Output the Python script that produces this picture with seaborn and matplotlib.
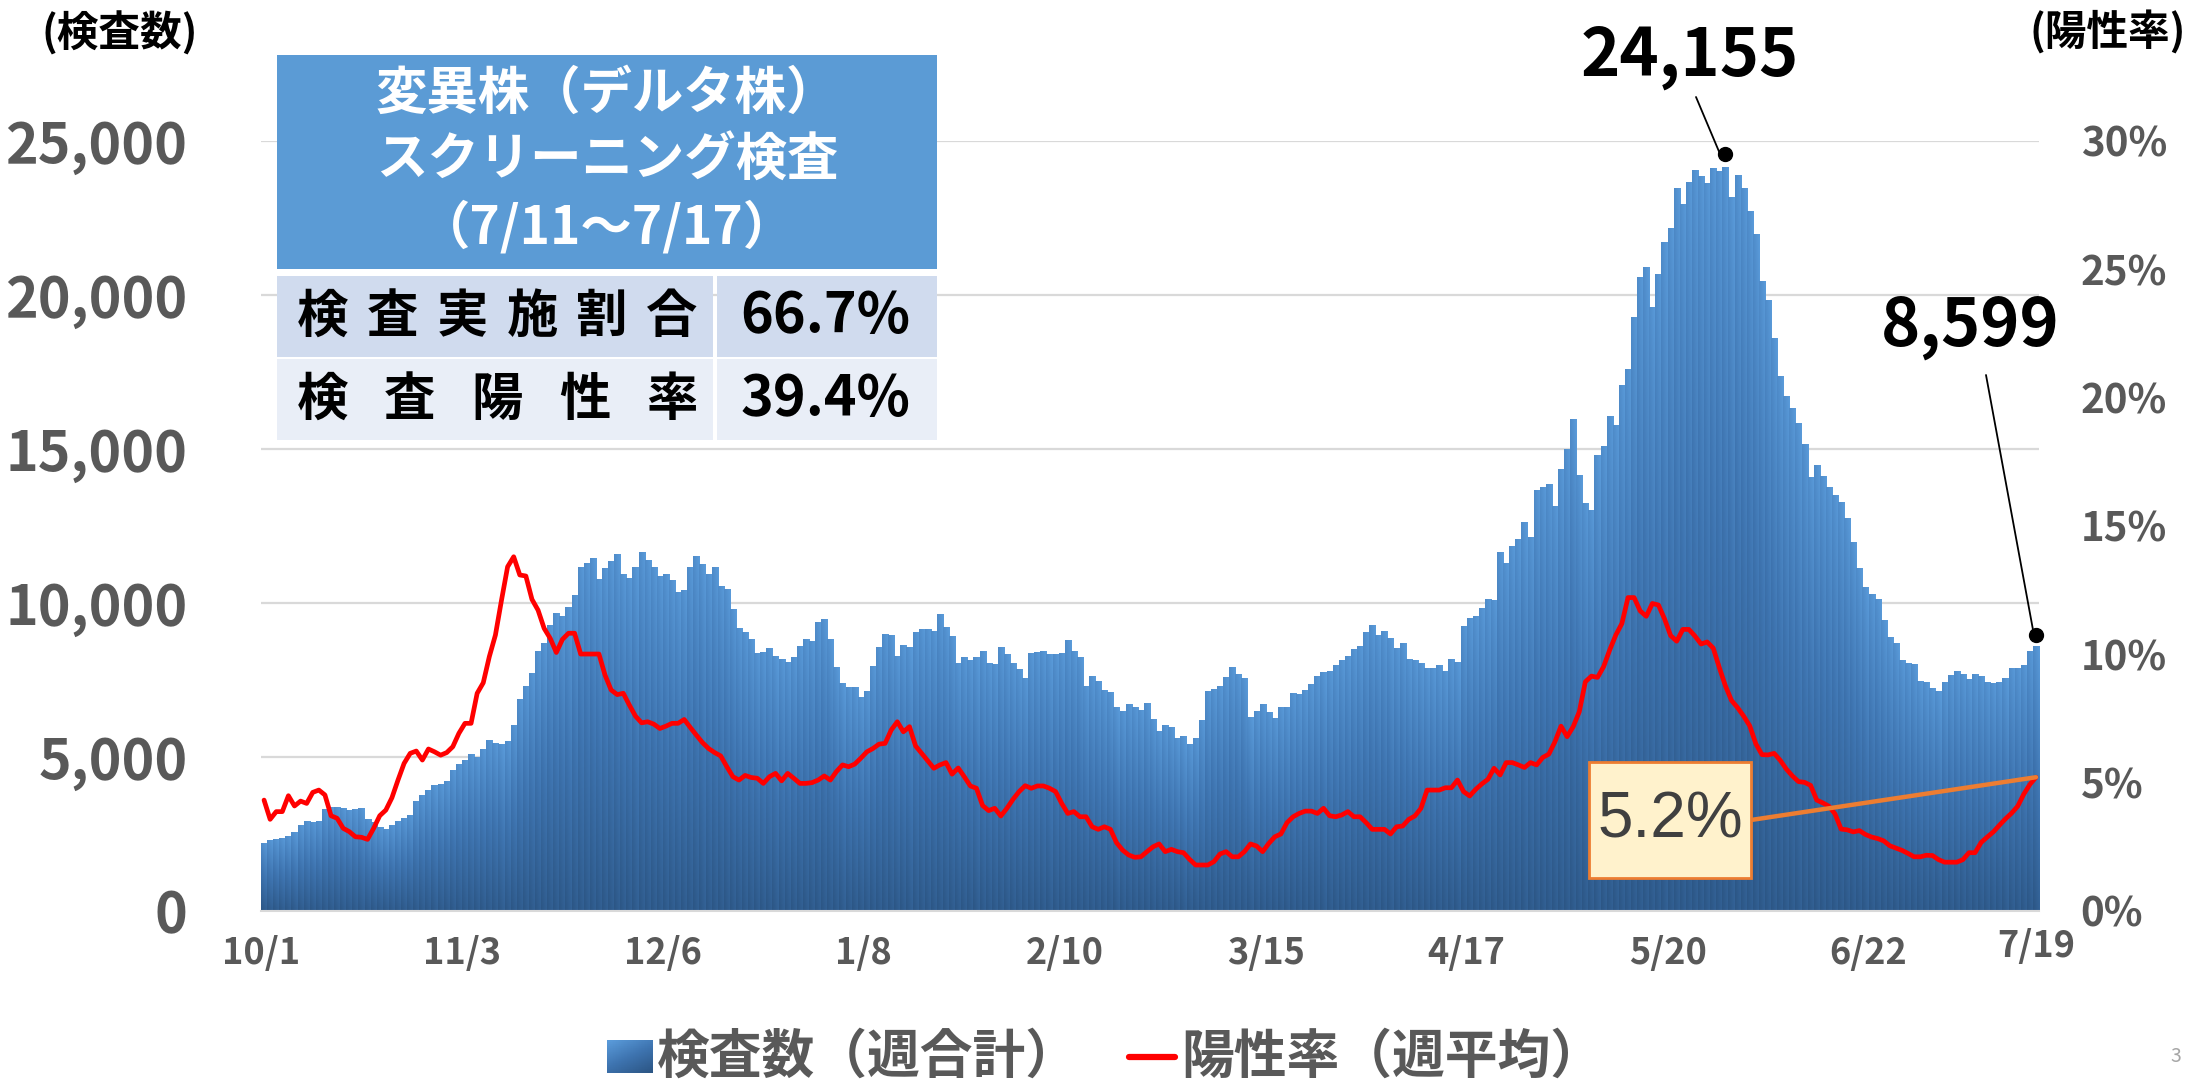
import numpy as np
import pandas as pd
import matplotlib
matplotlib.use('Agg')
import matplotlib.pyplot as plt
import matplotlib.transforms as mtransforms
from matplotlib.colors import LinearSegmentedColormap
from matplotlib.patches import Rectangle
from matplotlib.lines import Line2D
import seaborn as sns

# 日付（10/1〜7/19）
days = pd.date_range('2020-10-01', '2021-07-19', freq='D')
day_labels = [f'{d.month}/{d.day}' for d in days]

# 検査数（週合計）
tests = [
    2190, 2290, 2315, 2350, 2420, 2550, 2780, 2910, 2860, 2910,
    3300, 3350, 3350, 3320, 3270, 3290, 3320, 2980, 2860, 2700,
    2650, 2780, 2910, 3000, 3100, 3560, 3750, 3920, 4080, 4110,
    4210, 4570, 4760, 4890, 5090, 4970, 5250, 5540, 5450, 5410,
    5510, 6030, 6870, 7290, 7720, 8430, 8700, 9270, 9650, 9570,
    9860, 10250, 11160, 11290, 11440, 10770, 11120, 11350, 11580, 10930,
    10800, 11160, 11640, 11380, 11160, 10860, 10930, 10730, 10340, 10410,
    11160, 11510, 11250, 10930, 11160, 10540, 10440, 9790, 9180, 9050,
    8820, 8360, 8400, 8530, 8270, 8170, 8070, 8230, 8590, 8820,
    8750, 9370, 9470, 8820, 7910, 7390, 7260, 7260, 6940, 7130,
    7940, 8560, 8980, 8950, 8270, 8620, 8560, 9050, 9140, 9140,
    9080, 9630, 9210, 8920, 8040, 8230, 8140, 8230, 8430, 8040,
    8010, 8560, 8330, 8040, 7850, 7550, 8360, 8400, 8430, 8330,
    8330, 8360, 8790, 8430, 8230, 7290, 7620, 7460, 7160, 7100,
    6610, 6480, 6710, 6610, 6510, 6740, 6220, 5830, 6030, 5960,
    5600, 5670, 5410, 5600, 6190, 7130, 7200, 7290, 7590, 7910,
    7680, 7550, 6290, 6480, 6710, 6450, 6250, 6610, 6610, 7070,
    7030, 7160, 7360, 7620, 7750, 7780, 7970, 8140, 8270, 8490,
    8590, 9050, 9260, 8950, 9080, 8840, 8530, 8690, 8170, 8120,
    8050, 7880, 7880, 7960, 7780, 8170, 8060, 9230, 9490, 9560,
    9830, 10110, 10090, 11650, 11290, 11840, 12060, 12600, 12120, 13650,
    13740, 13840, 13140, 14350, 14990, 15960, 14140, 13240, 12990, 14790,
    15080, 16060, 15770, 17050, 17570, 19270, 20560, 20890, 19600, 20670,
    21720, 22160, 23450, 22940, 23650, 24040, 23860, 23620, 24100, 24010,
    24155, 23180, 23870, 23450, 22720, 21960, 20440, 19830, 18600, 17350,
    16710, 16330, 15840, 15150, 14090, 14480, 14120, 13740, 13480, 13260,
    12740, 11980, 11110, 10500, 10290, 10120, 9440, 8890, 8690, 8120,
    8050, 7990, 7450, 7420, 7230, 7140, 7420, 7650, 7780, 7670,
    7520, 7680, 7610, 7430, 7400, 7420, 7550, 7870, 7870, 7960,
    8440, 8599,
]

# 陽性率（週平均, %）
positive_rate = [
    4.31, 3.56, 3.86, 3.86, 4.48, 4.08, 4.27, 4.18, 4.61, 4.70,
    4.51, 3.70, 3.60, 3.21, 3.08, 2.88, 2.86, 2.78, 3.21, 3.70,
    3.92, 4.40, 5.09, 5.74, 6.13, 6.22, 5.87, 6.30, 6.19, 6.06,
    6.16, 6.39, 6.91, 7.30, 7.30, 8.47, 8.88, 9.90, 10.74, 12.10,
    13.40, 13.79, 13.08, 13.04, 12.13, 11.71, 11.00, 10.61, 10.06, 10.57,
    10.81, 10.81, 10.00, 10.00, 10.00, 10.00, 9.18, 8.60, 8.42, 8.47,
    8.01, 7.58, 7.32, 7.36, 7.27, 7.10, 7.19, 7.30, 7.30, 7.45,
    7.14, 6.84, 6.55, 6.32, 6.16, 6.03, 5.61, 5.22, 5.09, 5.27,
    5.19, 5.16, 4.96, 5.22, 5.35, 5.06, 5.35, 5.16, 4.96, 4.96,
    4.99, 5.09, 5.25, 5.09, 5.42, 5.68, 5.61, 5.71, 5.94, 6.19,
    6.32, 6.49, 6.52, 7.04, 7.36, 6.97, 7.17, 6.42, 6.13, 5.84,
    5.55, 5.68, 5.77, 5.32, 5.56, 5.22, 4.86, 4.77, 4.10, 3.90,
    3.99, 3.69, 3.99, 4.34, 4.64, 4.87, 4.77, 4.86, 4.86, 4.77,
    4.64, 4.18, 3.79, 3.86, 3.66, 3.66, 3.27, 3.17, 3.27, 3.17,
    2.65, 2.36, 2.17, 2.08, 2.10, 2.30, 2.49, 2.60, 2.30, 2.39,
    2.30, 2.26, 2.00, 1.78, 1.78, 1.78, 1.91, 2.21, 2.30, 2.10,
    2.10, 2.30, 2.60, 2.52, 2.30, 2.62, 2.88, 2.99, 3.43, 3.66,
    3.79, 3.88, 3.88, 3.79, 3.99, 3.70, 3.66, 3.73, 3.86, 3.66,
    3.66, 3.43, 3.17, 3.17, 3.17, 2.99, 3.27, 3.30, 3.56, 3.69,
    3.99, 4.70, 4.70, 4.70, 4.79, 4.79, 5.09, 4.64, 4.47, 4.73,
    4.94, 5.12, 5.55, 5.29, 5.77, 5.77, 5.68, 5.58, 5.77, 5.68,
    5.97, 6.10, 6.58, 7.19, 6.78, 7.17, 7.75, 8.92, 9.14, 9.09,
    9.51, 10.16, 10.74, 11.19, 12.20, 12.20, 11.68, 11.47, 11.97, 11.91,
    11.37, 10.72, 10.50, 10.96, 10.96, 10.70, 10.39, 10.47, 10.23, 9.47,
    8.76, 8.19, 7.91, 7.58, 7.20, 6.50, 6.08, 6.07, 6.13, 5.86,
    5.52, 5.25, 5.03, 5.00, 4.88, 4.31, 4.20, 4.07, 3.77, 3.18,
    3.15, 3.07, 3.12, 2.97, 2.87, 2.81, 2.72, 2.53, 2.44, 2.35,
    2.23, 2.10, 2.10, 2.16, 2.15, 1.99, 1.89, 1.89, 1.89, 1.99,
    2.26, 2.26, 2.66, 2.87, 3.07, 3.33, 3.58, 3.80, 4.07, 4.54,
    4.92, 5.20,
]

tick_labels = ['10/1', '11/3', '12/6', '1/8', '2/10', '3/15', '4/17', '5/20', '6/22']
last_label = '7/19'
left_ticks = [0, 5000, 10000, 15000, 20000, 25000]
right_ticks = [0, 5, 10, 15, 20, 25, 30]

screening_title = ['変異株（デルタ株）', 'スクリーニング検査', '（7/11～7/17）']
screening_rows = [('検査実施割合', '66.7%'), ('検査陽性率', '39.4%')]
legend_labels = ['検査数（週合計）', '陽性率（週平均）']

GRAY = '#595959'
W, H = 2190, 1083


def fx(px):
    return px / W


def fy(py):
    return 1 - py / H


sns.set_style('white')
plt.rcParams['font.family'] = ['Noto Sans CJK JP', 'DejaVu Sans']

df = pd.DataFrame({'day': day_labels, 'tests': tests, 'rate': positive_rate})
n = len(df)

fig = plt.figure(figsize=(21.9, 10.83), dpi=100)
ax = fig.add_axes([fx(261), fy(910.7), fx(2039) - fx(261), (910.7 - 140.7) / H])

# 棒グラフ（検査数）
sns.barplot(data=df, x='day', y='tests', color='#4A86C6', width=1.0,
            linewidth=0, errorbar=None, ax=ax, zorder=1)

# 棒ごとのグラデーション
bar_cmap = LinearSegmentedColormap.from_list('bar', ['#2C5685', '#3E74B0', '#5A9BDA'])
yy = np.linspace(0, 1, 64)[:, None]
xx = np.linspace(0, 1, 8)[None, :]
shade = 0.8 * yy + 0.2 * xx
for bar in list(ax.patches):
    x0, w, h = bar.get_x(), bar.get_width(), bar.get_height()
    ax.imshow(shade, cmap=bar_cmap, vmin=0, vmax=1, origin='lower', aspect='auto',
              extent=(x0, x0 + w, 0, h), interpolation='bilinear', zorder=1.5)

# 折れ線（陽性率）
ax2 = ax.twinx()
sns.lineplot(x=np.arange(n), y=df['rate'].values, color='#FF0000', lw=3.4, ax=ax2, zorder=3)

ax.set_xlim(-0.5, n - 0.5)
ax.set_ylim(0, 25000)
ax2.set_ylim(0, 30)

for a in (ax, ax2):
    for s in a.spines.values():
        s.set_visible(False)
    a.set_xlabel('')
    a.set_ylabel('')
ax.spines['bottom'].set_visible(True)
ax.spines['bottom'].set_color('#D9D9D9')
ax.spines['bottom'].set_linewidth(1.5)

ax.yaxis.grid(True, color='#D9D9D9', lw=1.6)
ax.xaxis.grid(False)
ax.set_axisbelow(True)
ax2.grid(False)

ax.set_yticks(left_ticks, [f'{v:,}' for v in left_ticks])
ax.tick_params(axis='y', length=0, pad=53, labelsize=40, labelcolor=GRAY)
ax2.set_yticks(right_ticks, [f'{v}%' for v in right_ticks])
ax2.tick_params(axis='y', length=0, pad=30, labelsize=29, labelcolor=GRAY)

ax.set_xticks([day_labels.index(t) - 0.5 for t in tick_labels], tick_labels)
ax.tick_params(axis='x', length=7.2, width=1.5, color='#D9D9D9', pad=10,
               labelsize=26, labelcolor=GRAY)
for lbl in ax.get_xticklabels() + ax.get_yticklabels() + ax2.get_yticklabels():
    lbl.set_fontweight('bold')

blend = mtransforms.blended_transform_factory(ax.transData, ax.transAxes)
ax.text(day_labels.index(last_label), -0.047, last_label, transform=blend, ha='center',
        va='center', fontsize=26, fontweight='bold', color=GRAY)

# 最大値・最新値の吹き出し
peak = int(np.argmax(tests))
last = n - 1
for idx, dy, txt_xy, line_xy in [(peak, 9, (1690, 56), (1696, 97)),
                                  (last, 8, (1970, 326), (1986, 375))]:
    off = mtransforms.offset_copy(ax.transData, fig=fig, y=dy, units='points')
    ax.plot([idx], [tests[idx]], 'o', ms=10, color='black', transform=off,
            zorder=10, clip_on=False)
    ax.annotate('', xy=(idx, tests[idx]), xytext=(fx(line_xy[0]), fy(line_xy[1])),
                textcoords='figure fraction',
                arrowprops=dict(arrowstyle='-', color='black', lw=1.3, shrinkA=0, shrinkB=dy))
    fig.text(fx(txt_xy[0]), fy(txt_xy[1]), f'{tests[idx]:,}', ha='center', va='center',
             fontsize=48, fontweight='bold', color='black')

# 最新の陽性率
ax2.annotate('', xy=(last, positive_rate[last]), xytext=(fx(1751), fy(820)),
             textcoords='figure fraction',
             arrowprops=dict(arrowstyle='-', color='#ED7D31', lw=3.2, shrinkA=0, shrinkB=0))
fig.add_artist(Rectangle((fx(1589), fy(878)), fx(1751) - fx(1589), (878 - 762) / H,
                         transform=fig.transFigure, fc='#FFF2CC', ec='#ED7D31', lw=2, zorder=5))
fig.text(fx(1670), fy(820), f'{positive_rate[last]:.1f}%', ha='center', va='center',
         fontsize=46, color='#404040', family=['Liberation Sans'], zorder=6)

# 軸タイトル
fig.text(fx(120), fy(33), '(検査数)', ha='center', va='center', fontsize=30,
         fontweight='bold', color='black')
fig.text(fx(2108), fy(33), '(陽性率)', ha='center', va='center', fontsize=30,
         fontweight='bold', color='black')

# スクリーニング検査の表
fig.add_artist(Rectangle((fx(277), fy(269)), fx(937) - fx(277), (269 - 55) / H,
                         transform=fig.transFigure, fc='#5B9BD5', ec='none', zorder=4))
for k, line in enumerate(screening_title):
    fig.text(fx(607), fy(93 + 67.5 * k), line, ha='center', va='center', fontsize=37,
             fontweight='bold', color='white', zorder=6)

row_top = [276, 359]
row_fill = ['#D0DBEE', '#E9EEF7']
for (label, value), top, fill in zip(screening_rows, row_top, row_fill):
    bottom = top + 81
    fig.add_artist(Rectangle((fx(277), fy(bottom)), fx(713) - fx(277), 81 / H,
                             transform=fig.transFigure, fc=fill, ec='none', zorder=4))
    fig.add_artist(Rectangle((fx(717), fy(bottom)), fx(937) - fx(717), 81 / H,
                             transform=fig.transFigure, fc=fill, ec='none', zorder=4))
    yc = (top + bottom) / 2
    for cx, ch in zip(np.linspace(322, 672, len(label)), label):
        fig.text(fx(cx), fy(yc), ch, ha='center', va='center', fontsize=37,
                 fontweight='bold', color='black', zorder=6)
    fig.text(fx(825), fy(yc), value, ha='center', va='center', fontsize=40,
             fontweight='bold', color='black', zorder=6)

# 凡例
lax = fig.add_axes([fx(607), fy(1073), fx(653) - fx(607), 33 / H])
icon = np.linspace(1, 0, 16)[:, None] * 0.6 + np.linspace(1, 0, 16)[None, :] * 0.4
lax.imshow(icon, cmap=bar_cmap, vmin=0, vmax=1, aspect='auto')
lax.axis('off')
fig.text(fx(657), fy(1057), legend_labels[0], ha='left', va='center', fontsize=38,
         fontweight='bold', color=GRAY)
fig.add_artist(Line2D([fx(1129), fx(1175)], [fy(1057), fy(1057)], transform=fig.transFigure,
                      color='#FF0000', lw=4.5, solid_capstyle='round'))
fig.text(fx(1181), fy(1057), legend_labels[1], ha='left', va='center', fontsize=38,
         fontweight='bold', color=GRAY)

fig.text(fx(2176), fy(1057), '3', ha='center', va='center', fontsize=14, color='#A6A6A6')

fig.savefig('out.png', dpi=100)
plt.close(fig)
